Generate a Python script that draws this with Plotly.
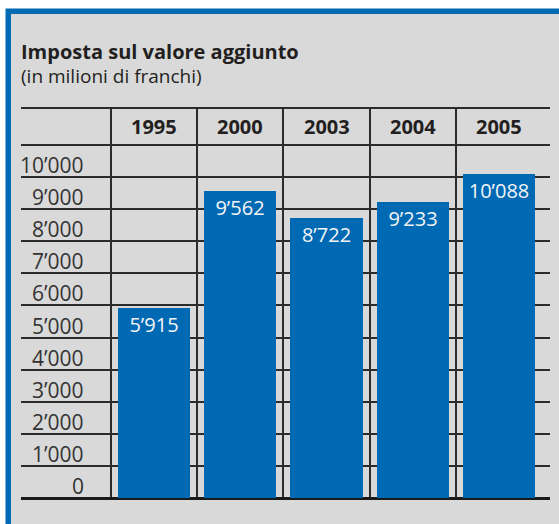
import plotly.graph_objects as go

# Data
years = ["1995", "2000", "2003", "2004", "2005"]
values = [5915, 9562, 8722, 9233, 10088]
value_labels = ["5’915", "9’562", "8’722", "9’233", "10’088"]
tick_values = [0, 1000, 2000, 3000, 4000, 5000, 6000, 7000, 8000, 9000, 10000]
tick_labels = ["0", "1’000", "2’000", "3’000", "4’000", "5’000", "6’000", "7’000", "8’000", "9’000", "10’000"]
title_text = "Imposta sul valore aggiunto"
subtitle_text = "(in milioni di franchi)"

BLUE = "#0069b4"
GRAY = "#d9d9d9"
DARK = "#2b2b2b"
FONT = "Open Sans"

W, H = 559, 524
L, R, T, B = 21, 9, 108, 26
pw, ph = W - L - R, H - T - B
YTOP = 12150
x_idx = list(range(len(years)))


def px2x(px):
    return (px - L) / pw


def py2y(py):
    return (H - B - py) / ph


fig = go.Figure()
fig.add_trace(go.Bar(
    x=x_idx, y=values, width=0.835,
    marker=dict(color=BLUE, line=dict(width=0)),
    text=value_labels, textposition="inside", insidetextanchor="end",
    constraintext="none", textangle=0,
    textfont=dict(family=FONT, size=20, color="#f4f4f4"),
    hoverinfo="skip",
))

shapes = [
    # blue frame
    dict(type="rect", xref="paper", yref="paper", x0=px2x(5.5), x1=px2x(620),
         y0=py2y(620), y1=py2y(8.5), fillcolor=BLUE, line=dict(width=0), layer="below"),
    dict(type="rect", xref="paper", yref="paper", x0=px2x(11), x1=px2x(620),
         y0=py2y(620), y1=py2y(14), fillcolor=GRAY, line=dict(width=0), layer="below"),
    # top table line
    dict(type="line", xref="paper", yref="paper", x0=0, x1=1, y0=1, y1=1,
         line=dict(color=DARK, width=2), layer="below"),
]
fig.update_layout(shapes=shapes)

annotations = [
    dict(text="<b>" + title_text + "</b>", xref="paper", yref="paper", x=px2x(19), y=py2y(51),
         xanchor="left", yanchor="middle", showarrow=False,
         font=dict(family=FONT, size=20, color="#231f20")),
    dict(text=subtitle_text, xref="paper", yref="paper", x=px2x(19), y=py2y(76),
         xanchor="left", yanchor="middle", showarrow=False,
         font=dict(family=FONT, size=19, color="#231f20")),
]
for i, yr in zip(x_idx, years):
    annotations.append(dict(text="<b>" + yr + "</b>", x=i, y=11560, xref="x", yref="y",
                            xanchor="center", yanchor="middle", showarrow=False,
                            font=dict(family=FONT, size=20, color="#231f20")))
for v, lab in zip(tick_values, tick_labels):
    annotations.append(dict(text=lab, x=px2x(86), y=v, xref="paper", yref="y",
                            xanchor="right", yanchor="middle", yshift=12, showarrow=False,
                            font=dict(family=FONT, size=21, color="#333333")))
fig.update_layout(annotations=annotations)

fig.update_layout(
    width=W, height=H, margin=dict(l=L, r=R, t=T, b=B, pad=0),
    paper_bgcolor="white", plot_bgcolor="rgba(0,0,0,0)",
    showlegend=False, bargap=0,
    xaxis=dict(range=[(L - 154) / 86.25, (W - R - 154) / 86.25],
               tickvals=[-0.5, 0.5, 1.5, 2.5, 3.5], showticklabels=False, ticks="",
               showgrid=True, gridcolor=DARK, gridwidth=2, zeroline=False, showline=False,
               fixedrange=True),
    yaxis=dict(range=[0, YTOP], tickvals=tick_values + [11000], showticklabels=False, ticks="",
               showgrid=True, gridcolor=DARK, gridwidth=2,
               zeroline=True, zerolinecolor="#1a1a1a", zerolinewidth=3, showline=False,
               fixedrange=True),
)

fig.write_html("out.html", config={"displayModeBar": False},
               post_script="document.body.style.margin='0';document.body.style.overflow='hidden';")
